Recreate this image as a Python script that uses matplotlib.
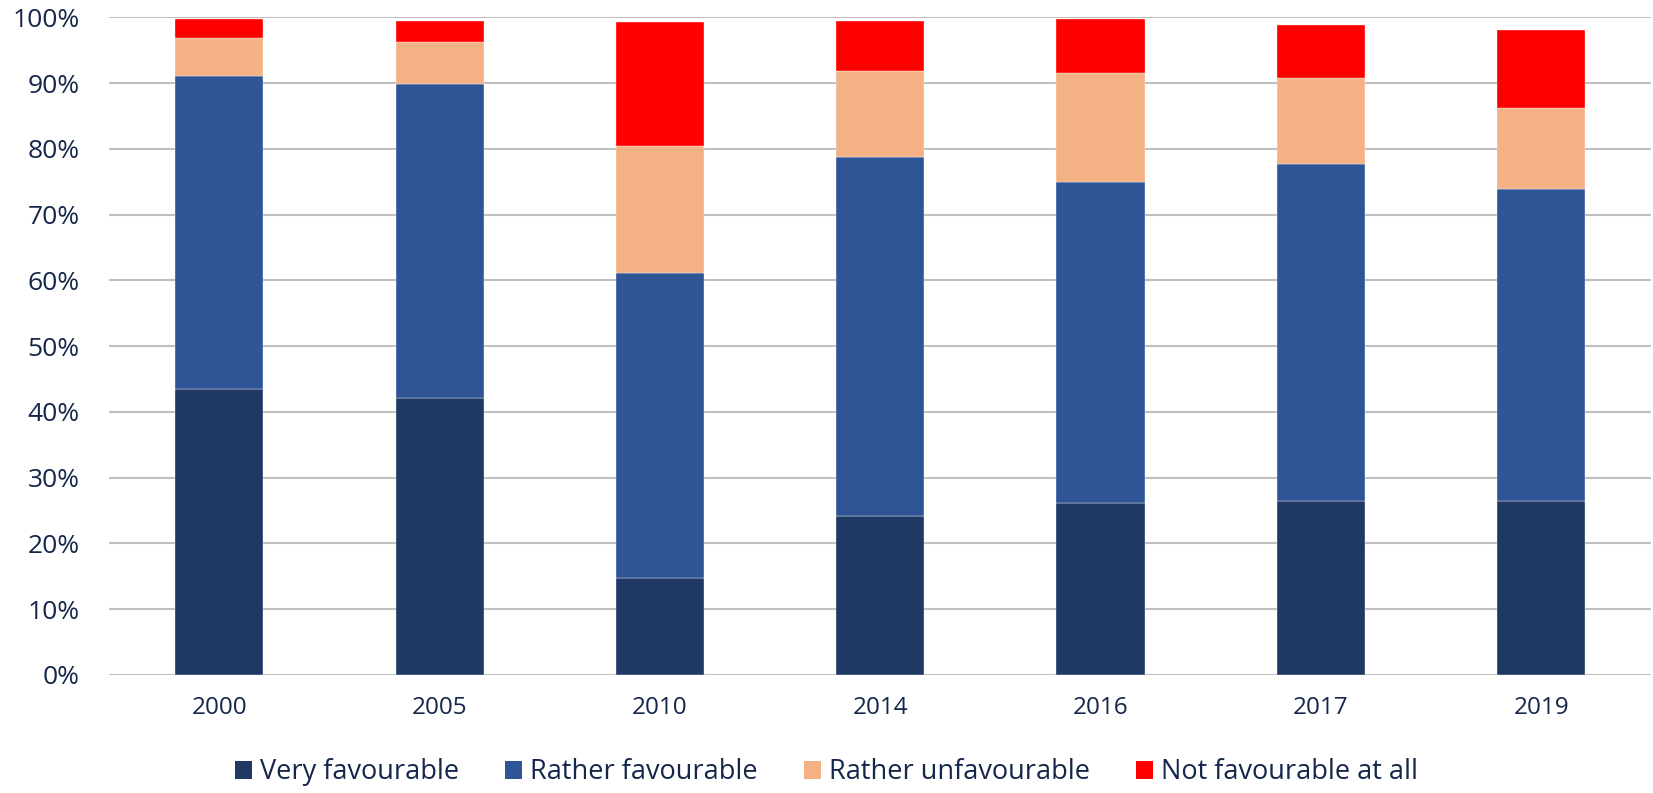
import matplotlib
matplotlib.use("Agg")
import matplotlib.pyplot as plt
import numpy as np
from matplotlib.patches import Patch
from matplotlib.ticker import PercentFormatter

years = ["2000", "2005", "2010", "2014", "2016", "2017", "2019"]

# shares per answer category, in percent
very_fav = [43.5, 42.1, 14.8, 24.1, 26.2, 26.5, 26.5]
rather_fav = [47.6, 47.8, 46.3, 54.6, 48.8, 51.2, 47.4]
rather_unfav = [5.8, 6.3, 19.3, 13.1, 16.6, 13.1, 12.4]
not_fav = [2.8, 3.3, 18.9, 7.7, 8.1, 8.1, 11.8]

series = [
    ("Very favourable", very_fav, "#203864"),
    ("Rather favourable", rather_fav, "#2F5597"),
    ("Rather unfavourable", rather_unfav, "#F4B183"),
    ("Not favourable at all", not_fav, "#FF0000"),
]

text_col = "#14264a"
plt.rcParams["font.family"] = ["Open Sans", "DejaVu Sans"]

fig = plt.figure(figsize=(16.53, 7.93), dpi=100)
ax = fig.add_axes([0.066, 0.149, 0.933, 0.829])

x = np.arange(len(years))
bottom = np.zeros(len(years))
handles = []
for label, vals, col in series:
    vals = np.array(vals)
    ax.bar(x, vals, 0.4, bottom=bottom, color=col, edgecolor="white",
           linewidth=0.25, zorder=3)
    bottom += vals
    handles.append(Patch(facecolor=col, label=label))

ax.set_xlim(-0.5, len(years) - 0.5)
ax.set_ylim(0, 100)
ax.set_yticks(np.arange(0, 101, 10))
ax.yaxis.set_major_formatter(PercentFormatter(decimals=0))
ax.set_xticks(x)
ax.set_xticklabels(years)
ax.grid(axis="y", color="#BFBFBF", linewidth=1.5, zorder=0)
for s in ax.spines.values():
    s.set_visible(False)
ax.tick_params(axis="y", length=0, pad=21, labelsize=19, labelcolor=text_col)
ax.tick_params(axis="x", length=0, pad=15, labelsize=17.5, labelcolor=text_col)

fig.legend(handles=handles, loc="center", bbox_to_anchor=(0.5, 0.026),
           ncol=4, frameon=False, fontsize=19.5, labelcolor=text_col,
           handlelength=0.62, handleheight=0.62, handletextpad=0.3,
           columnspacing=1.7)

fig.savefig("out.png", dpi=100)
